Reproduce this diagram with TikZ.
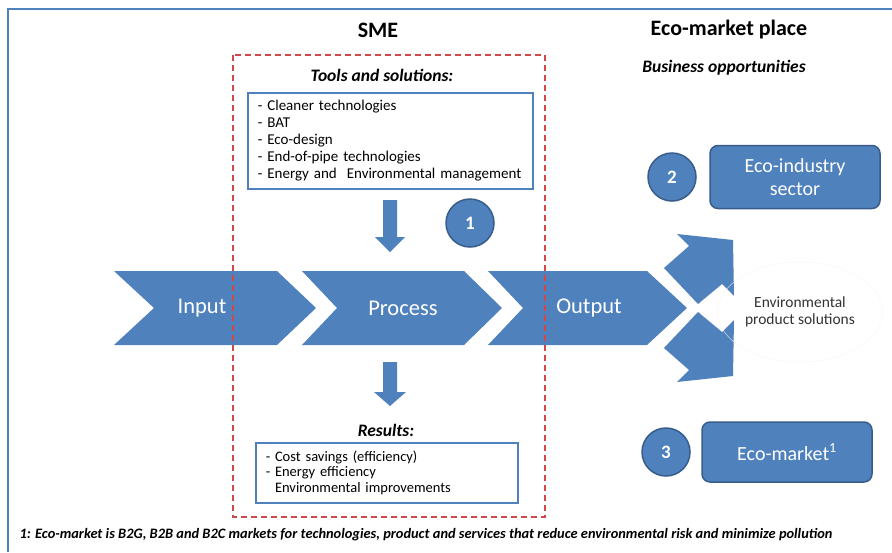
\documentclass[tikz,border=0pt]{standalone}
\usepackage{fontspec}
\setmainfont{Carlito}
\usetikzlibrary{shapes.geometric}

\definecolor{ecoblue}{HTML}{4F81BD}
\definecolor{ecodark}{HTML}{385D8A}
\definecolor{smered}{HTML}{D04848}

\begin{document}
\begin{tikzpicture}[x=1pt,y=-1pt,
    numcircle/.style={circle, fill=ecoblue, draw=ecodark, line width=1.5pt, minimum size=48pt, inner sep=0pt, text=white, font=\fontsize{19}{20}\selectfont\bfseries},
    ecobox/.style={rounded corners=8pt, fill=ecoblue, draw=ecodark, line width=1.5pt, text=white, align=center, font=\fontsize{20}{23}\selectfont},
    listbox/.style={draw=ecoblue, line width=1.5pt, fill=white, anchor=north west, align=left, inner xsep=10pt},
    chevlabel/.style={text=white, font=\fontsize{22.5}{24}\selectfont},
    heading/.style={font=\fontsize{22}{24}\selectfont\bfseries},
    subheading/.style={font=\fontsize{17.5}{20}\selectfont\bfseries\itshape},
    smebox/.style={draw=smered, line width=2pt, dash pattern=on 6pt off 4pt}]
    \useasboundingbox (0,0) rectangle (892,552);
    \fill[white] (0,0) rectangle (892,552);

    % frame
    \draw[ecoblue, line width=2pt] (8,552) -- (8,9) -- (892,9);

    \node[heading] (sme) at (378,30) {SME};
    \node[heading] (market) at (729,30) {Eco-market place};
    \node[subheading] (business) at (724,68) {Business opportunities};

    % tools and solutions
    \node[subheading] (toolstitle) at (382,75) {Tools and solutions:};
    \node[listbox, minimum width=285pt, minimum height=96pt, text width=265pt,
          font=\fontsize{15}{17}\selectfont] (tools) at (247,92)
        {- Cleaner technologies\\- BAT\\- Eco-design\\- End-of-pipe technologies\\- Energy and\ \ Environmental management};
    \fill[ecoblue] (383,200) -- (397,200) -- (397,237) -- (405,237) -- (390,252) -- (375,237) -- (383,237) -- cycle;
    \node[numcircle] (one) at (470,223) {1};

    % chevrons
    \fill[ecoblue] (114,271) -- (277,271) -- (316,308) -- (277,345) -- (114,345) -- (154,308) -- cycle;
    \fill[ecoblue] (302,271) -- (464,271) -- (502,308) -- (464,345) -- (302,345) -- (337,308) -- cycle;
    \fill[ecoblue] (488,271) -- (647,271) -- (687,308) -- (647,345) -- (488,345) -- (523,308) -- cycle;
    \node[chevlabel] (input) at (202,308) {Input};
    \node[chevlabel] (process) at (403,308) {Process};
    \node[chevlabel] (output) at (589,308) {Output};

    % split arrows
    \fill[ecoblue] (664,268) -- (689,246) -- (677,234) -- (733,240) -- (734,296) -- (722,284) -- (698,304) -- cycle;
    \fill[ecoblue] (664,348) -- (689,370) -- (677,382) -- (733,376) -- (734,320) -- (722,332) -- (698,312) -- cycle;
    \node[ellipse, draw=black!3, minimum width=164pt, minimum height=100pt, align=center,
          text=black!80, font=\fontsize{15.5}{17}\selectfont] (env) at (800,312) {Environmental\\product solutions};

    \node[numcircle] (two) at (672,177) {2};
    \node[ecobox, minimum width=170pt, minimum height=63pt] (industry) at (795,177) {Eco-industry\\sector};
    \node[numcircle] (three) at (666,452) {3};
    \node[ecobox, minimum width=170pt, minimum height=60pt] (ecomarket) at (787,452) {Eco-market\textsuperscript{1}};

    % results
    \fill[ecoblue] (383,362) -- (397,362) -- (397,392) -- (406,392) -- (390,406) -- (374,392) -- (383,392) -- cycle;
    \node[subheading] (restitle) at (386,430) {Results:};
    \node[listbox, minimum width=262pt, minimum height=60pt, text width=242pt,
          font=\fontsize{14.5}{15.5}\selectfont] (results) at (255,442)
        {- Cost savings (efficiency)\\- Energy efficiency\\\phantom{- }Environmental improvements};

    \draw[smebox] (233,55) rectangle (545,517);

    \node[anchor=west, font=\fontsize{14.4}{16}\selectfont\bfseries\itshape] (note) at (16,535)
        {1: Eco-market is B2G, B2B and B2C markets for technologies, product and services that reduce environmental risk and minimize pollution};
\end{tikzpicture}
\end{document}
